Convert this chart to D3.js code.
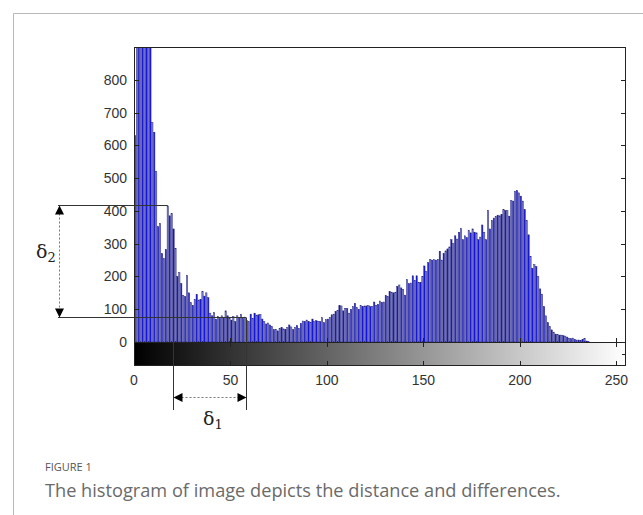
<!DOCTYPE html>
<html><head><meta charset="utf-8">
<script src="https://cdn.jsdelivr.net/npm/d3@7/dist/d3.min.js"></script>
<style>
html,body{margin:0;padding:0;background:#fff;}
svg{display:block;}
</style></head>
<body>
<svg id="chart" width="643" height="515"></svg>
<script>
// ---- data (histogram counts, gray levels 0..255; bins 1-8 exceed the axis) ----
const counts = [
 630,1150,1900,2400,2100,2600,1800,1400,1050,670, 640,520,352,362,270,255,282,415,385,392,
 345,286,200,212,178,142,138,203,150,120, 112,130,145,128,130,155,140,150,135,88,
 80,90,70,78,72,80,75,95,80,72, 67,78,62,80,72,84,72,76,65,62,
 85,72,88,82,83,84,70,62,55,58, 52,47,38,39,34,42,44,40,38,44,
 52,46,38,45,50,42,57,64,62,67, 63,60,70,62,65,63,62,74,59,68,
 70,75,83,85,93,96,111,110,95,103, 102,88,100,108,118,105,100,111,108,110,
 110,111,108,108,122,112,115,125,121,122, 142,138,154,152,150,152,170,174,165,160,
 143,190,178,180,202,187,202,182,182,200, 232,215,242,251,250,251,250,252,277,250,
 270,278,284,290,312,300,324,314,335,346, 312,324,318,340,333,345,335,333,312,320,
 357,335,312,402,345,371,378,383,387,385, 389,404,401,401,384,431,430,460,462,455,
 445,430,404,371,327,261,225,236,230,200, 162,146,108,80,59,47,37,30,24,23,
 21,21,19,18,15,12,10,12,8,6, 6,5,8,10,3,2,0,0,0,0,
 0,0,0,0,0,0,0,0,0,0, 0,0,0,0,0,0
];
const yTicks = [0,100,200,300,400,500,600,700,800];
const xTicks = [0,50,100,150,200,250];
const delta2 = [77, 418];   // levels marked by the δ2 arrow
const delta1 = [20.3, 58];  // gray levels marked by the δ1 arrow
const caption = "The histogram of image depicts the distance and differences.";
const figLabel = "FIGURE 1";

const svg = d3.select("#chart");
const L=134, R=626, T=47, B=342, CB=366;
const x = d3.scaleLinear().domain([0,255]).range([L,R]);
const y = d3.scaleLinear().domain([0,900]).range([B,T]);

// outer frame
svg.append("path").attr("d",`M13.5,515 V13.5 H643`).attr("fill","none").attr("stroke","#b8b8b8").attr("stroke-width",1);

// plot background
svg.append("rect").attr("x",L).attr("y",T).attr("width",R-L).attr("height",B-T).attr("fill","#fff");

// bars
svg.append("defs").append("clipPath").attr("id","pc").append("rect").attr("x",L).attr("y",T).attr("width",R-L).attr("height",B-T);
const bw = (x(1)-x(0));
svg.append("g").attr("clip-path","url(#pc)").selectAll("rect").data(counts).join("rect")
  .attr("x",(d,i)=>x(i)+bw*0.16)
  .attr("width",bw*0.68)
  .attr("y",d=>y(Math.min(d,950)))
  .attr("height",d=>B-y(Math.min(d,950)))
  .attr("fill",(d,i)=> i%2 ? "#8080d0" : "#1414f0")
  .attr("stroke","#20207a").attr("stroke-width",0.45);

// gradient bar
const grad = svg.select("defs").append("linearGradient").attr("id","gray").attr("x1","0").attr("x2","1").attr("y1","0").attr("y2","0");
grad.append("stop").attr("offset","0").attr("stop-color","#000");
grad.append("stop").attr("offset","1").attr("stop-color","#fff");
svg.append("rect").attr("x",L).attr("y",B).attr("width",R-L).attr("height",CB-B).attr("fill","url(#gray)");

// axes boxes
svg.append("rect").attr("x",L+0.5).attr("y",T+0.5).attr("width",R-L-1).attr("height",CB-T-1)
  .attr("fill","none").attr("stroke","#222").attr("stroke-width",1);
svg.append("line").attr("x1",L).attr("x2",R).attr("y1",B+0.5).attr("y2",B+0.5).attr("stroke","#222");

// ticks
const tk = svg.append("g").attr("stroke","#222").attr("stroke-width",1);
yTicks.forEach(v=>{
  const yy = Math.round(y(v))+0.5;
  tk.append("line").attr("x1",L).attr("x2",L+5).attr("y1",yy).attr("y2",yy);
  tk.append("line").attr("x1",R-5).attr("x2",R).attr("y1",yy).attr("y2",yy);
});
xTicks.forEach(v=>{
  const xx = Math.round(x(v))+0.5;
  tk.append("line").attr("x1",xx).attr("x2",xx).attr("y1",B-4).attr("y2",B+5);
  tk.append("line").attr("x1",xx).attr("x2",xx).attr("y1",CB-5).attr("y2",CB);
});
tk.append("line").attr("x1",R-4).attr("x2",R).attr("y1",354.5).attr("y2",354.5);

const tf = "'Liberation Sans', Arial, sans-serif";
svg.append("g").selectAll("text").data(yTicks).join("text")
  .attr("x",L-7).attr("y",d=>y(d)).attr("dy","0.36em").attr("text-anchor","end")
  .attr("font-family",tf).attr("font-size",14).attr("fill","#333").text(d=>d);
svg.append("g").selectAll("text").data(xTicks).join("text")
  .attr("x",d=>x(d)).attr("y",385).attr("text-anchor","middle")
  .attr("font-family",tf).attr("font-size",14).attr("fill","#333").text(d=>d);

// annotations
const ann = svg.append("g").attr("stroke","#333").attr("stroke-width",1).attr("fill","none");
const yTop = Math.round(y(delta2[1]))+0.5, yBot = Math.round(y(delta2[0]))+0.5;
ann.append("line").attr("x1",58).attr("x2",x(17.5)).attr("y1",yTop).attr("y2",yTop);
ann.append("line").attr("x1",58).attr("x2",x(delta1[1])).attr("y1",yBot).attr("y2",yBot);
const xa = Math.round(x(delta1[0]))+0.5, xb = Math.round(x(delta1[1]))+0.5;
ann.append("line").attr("x1",xa).attr("x2",xa).attr("y1",B).attr("y2",410);
ann.append("line").attr("x1",xb).attr("x2",xb).attr("y1",yBot).attr("y2",410);

// dotted arrows
const dots = svg.append("g").attr("stroke","#777").attr("stroke-width",1).attr("stroke-dasharray","2,2");
dots.append("line").attr("x1",59.5).attr("x2",59.5).attr("y1",yTop+8).attr("y2",yBot-8);
dots.append("line").attr("x1",xa+8).attr("x2",xb-8).attr("y1",397.5).attr("y2",397.5);
const heads = svg.append("g").attr("fill","#000");
heads.append("path").attr("d",`M59.5,${yTop} l-4.5,9 h9 z`);
heads.append("path").attr("d",`M59.5,${yBot} l-4.5,-9 h9 z`);
heads.append("path").attr("d",`M${xa},397.5 l9,-4.5 v9 z`);
heads.append("path").attr("d",`M${xb},397.5 l-9,-4.5 v9 z`);

const sf = "'DejaVu Serif', 'Liberation Serif', serif";
const d2 = svg.append("text").attr("x",36).attr("y",258).attr("font-family",sf).attr("font-size",19).attr("fill","#222");
d2.append("tspan").text("δ");
d2.append("tspan").attr("font-size",13).attr("dy",4).text("2");
const d1 = svg.append("text").attr("x",203).attr("y",425).attr("font-family",sf).attr("font-size",19).attr("fill","#222");
d1.append("tspan").text("δ");
d1.append("tspan").attr("font-size",13).attr("dy",4).text("1");

// caption
svg.append("text").attr("x",45).attr("y",471).attr("font-family","'Open Sans', sans-serif").attr("font-size",11)
  .attr("fill","#555").text(figLabel);
svg.append("text").attr("x",45).attr("y",497).attr("font-family","'Open Sans', sans-serif").attr("font-size",18.2)
  .attr("fill","#6a6a6a").text(caption);
</script>
</body></html>
